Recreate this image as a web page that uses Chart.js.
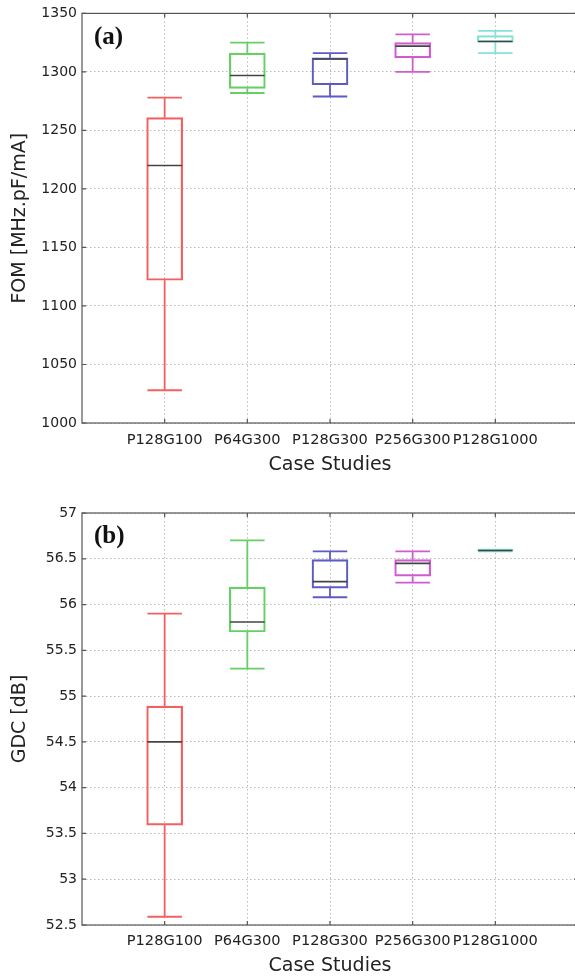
<!DOCTYPE html>
<html>
<head>
<meta charset="utf-8">
<script src="https://cdn.jsdelivr.net/npm/chart.js@4/dist/chart.umd.min.js"></script>
<style>
  html,body{margin:0;padding:0;background:#fff;overflow:hidden;}
  #wrap{position:relative;width:575px;height:977px;overflow:hidden;}
  #c1{position:absolute;left:0;top:0;}
  #c2{position:absolute;left:0;top:488px;}
</style>
</head>
<body>
<div id="wrap">
  <canvas id="c1" width="586" height="488"></canvas>
  <canvas id="c2" width="586" height="489"></canvas>
</div>
<script>
// ---------- data ----------
const categories = ['P128G100', 'P64G300', 'P128G300', 'P256G300', 'P128G1000'];
const boxColors  = ['#f26060', '#66d066', '#5c5cc4', '#d05cd0', '#86e2d6'];

// (a) FOM [MHz.pF/mA]
const fomMin = [1028, 1282, 1279, 1300, 1316];
const fomQ1  = [1122, 1286, 1289, 1312, 1325.5];
const fomMed = [1220, 1297, 1311, 1322, 1326];
const fomQ3  = [1261, 1316, 1312, 1325, 1331];
const fomMax = [1278, 1325, 1316, 1332, 1335];
const fomTicks = [1000, 1050, 1100, 1150, 1200, 1250, 1300, 1350];

// (b) GDC [dB]
const gdcMin = [52.59, 55.30, 56.08, 56.24, 56.58];
const gdcQ1  = [53.59, 55.70, 56.18, 56.31, 56.59];
const gdcMed = [54.50, 55.81, 56.25, 56.45, 56.59];
const gdcQ3  = [54.89, 56.19, 56.49, 56.49, 56.60];
const gdcMax = [55.90, 56.70, 56.58, 56.58, 56.60];
const gdcTicks = [52.5, 53, 53.5, 54, 54.5, 55, 55.5, 56, 56.5, 57];

const panelLabels = ['(a)', '(b)'];
const yTitles = ['FOM [MHz.pF/mA]', 'GDC [dB]'];
const xTitle = 'Case Studies';

// ---------- helpers ----------
const axisLabels = [''].concat(categories, ['']);
const FONT = "'DejaVu Sans', sans-serif";
const gridColor = 'rgba(150,150,150,0.65)';
const frameColor = '#555';

function pad(arr) { return [null].concat(arr, [null]); }

const boxPlugin = {
  id: 'boxes',
  afterDatasetsDraw(chart, args, opts) {
    const ctx = chart.ctx;
    const ys = chart.scales.y, xs = chart.scales.x;
    const meta = chart.getDatasetMeta(0);
    const st = opts.stats;
    ctx.save();
    ctx.lineWidth = 1.8;
    for (let k = 0; k < categories.length; k++) {
      const bar = meta.data[k + 1];
      const cx = bar.x, hw = bar.width / 2 - 0.75;
      const yMin = ys.getPixelForValue(st.min[k]);
      const yQ1 = ys.getPixelForValue(st.q1[k]);
      const yMed = ys.getPixelForValue(st.med[k]);
      const yQ3 = ys.getPixelForValue(st.q3[k]);
      const yMax = ys.getPixelForValue(st.max[k]);
      ctx.strokeStyle = boxColors[k];
      ctx.beginPath();
      ctx.moveTo(cx, yQ3); ctx.lineTo(cx, yMax);
      ctx.moveTo(cx - hw, yMax); ctx.lineTo(cx + hw, yMax);
      ctx.moveTo(cx, yQ1); ctx.lineTo(cx, yMin);
      ctx.moveTo(cx - hw, yMin); ctx.lineTo(cx + hw, yMin);
      ctx.stroke();
      ctx.strokeStyle = '#444';
      ctx.lineWidth = 1.6;
      ctx.beginPath();
      ctx.moveTo(cx - hw, yMed); ctx.lineTo(cx + hw, yMed);
      ctx.stroke();
      ctx.lineWidth = 1.8;
    }
    // frame + inward ticks
    const a = chart.chartArea;
    ctx.strokeStyle = frameColor;
    ctx.lineWidth = 1.2;
    ctx.strokeRect(a.left, a.top, a.right - a.left, a.bottom - a.top);
    ctx.beginPath();
    for (let i = 1; i <= categories.length; i++) {
      const x = xs.getPixelForValue(i);
      ctx.moveTo(x, a.bottom); ctx.lineTo(x, a.bottom - 4);
      ctx.moveTo(x, a.top); ctx.lineTo(x, a.top + 4);
    }
    ys.ticks.forEach(t => {
      const y = ys.getPixelForValue(t.value);
      ctx.moveTo(a.left, y); ctx.lineTo(a.left + 4, y);
      ctx.moveTo(a.right, y); ctx.lineTo(a.right - 4, y);
    });
    ctx.stroke();
    // panel label
    ctx.fillStyle = '#111';
    ctx.font = "bold 25px 'Liberation Serif', serif";
    ctx.textBaseline = 'alphabetic';
    ctx.textAlign = 'left';
    ctx.fillText(opts.label, a.left + 12, a.top + opts.labelDy);
    ctx.restore();
  }
};

function makeChart(id, st, ticks, yTitle, label, layoutPad, xHeight, xTickPad, xTitlePad, labelDy) {
  const boxData = pad(st.q1.map((v, i) => [v, st.q3[i]]));
  return new Chart(document.getElementById(id), {
    type: 'bar',
    data: {
      labels: axisLabels,
      datasets: [{
        data: boxData,
        backgroundColor: 'rgba(0,0,0,0)',
        borderColor: pad(boxColors),
        borderWidth: 1.5,
        borderSkipped: false,
        barThickness: 36
      }]
    },
    options: {
      responsive: false,
      animation: false,
      devicePixelRatio: 1,
      layout: { padding: layoutPad },
      plugins: {
        legend: { display: false },
        tooltip: { enabled: false },
        boxes: { stats: st, label: label, labelDy: labelDy }
      },
      scales: {
        x: {
          type: 'category',
          offset: false,
          grid: {
            offset: false,
            drawTicks: false,
            color: c => (c.index === 0 || c.index === axisLabels.length - 1) ? 'rgba(0,0,0,0)' : gridColor,
            lineWidth: 1
          },
          border: { display: false, dash: [1.5, 2.5] },
          ticks: {
            autoSkip: false, maxRotation: 0, minRotation: 0,
            padding: xTickPad, color: '#222',
            font: { family: FONT, size: 14.6 }
          },
          title: {
            display: true, text: xTitle, color: '#222',
            font: { family: FONT, size: 19 },
            padding: { top: 0, bottom: xTitlePad }
          },
          afterFit(s) { s.height = xHeight; }
        },
        y: {
          min: ticks[0], max: ticks[ticks.length - 1],
          afterBuildTicks(s) { s.ticks = ticks.map(v => ({ value: v })); },
          grid: { drawTicks: false, color: gridColor, lineWidth: 1 },
          border: { display: false, dash: [1.5, 2.5] },
          ticks: {
            padding: 5, color: '#222',
            font: { family: FONT, size: 14 },
            callback: v => String(v)
          },
          title: {
            display: true, text: yTitle, color: '#222',
            font: { family: FONT, size: 19 },
            padding: { top: 9, bottom: 0 }
          },
          afterFit(s) { s.width = 82; }
        }
      }
    },
    plugins: [boxPlugin]
  });
}

makeChart('c1',
  { min: fomMin, q1: fomQ1, med: fomMed, q3: fomQ3, max: fomMax },
  fomTicks, yTitles[0], panelLabels[0],
  { left: 0, right: 8, top: 13, bottom: 0 }, 65, 8, 12, 31);

makeChart('c2',
  { min: gdcMin, q1: gdcQ1, med: gdcMed, q3: gdcQ3, max: gdcMax },
  gdcTicks, yTitles[1], panelLabels[1],
  { left: 0, right: 8, top: 25, bottom: 0 }, 52, 7, 0, 30);
</script>
</body>
</html>
